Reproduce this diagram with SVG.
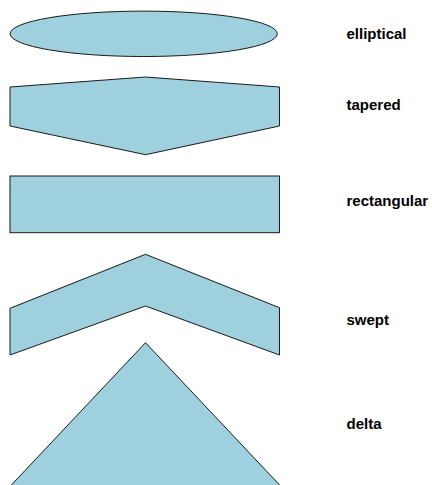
<svg xmlns="http://www.w3.org/2000/svg" width="432" height="485" viewBox="0 0 432 485">
<style>
.shape{fill:#9ed1dd;stroke:#1a1a1a;stroke-width:1;stroke-linejoin:miter}
.lbl{font-family:"Liberation Sans",Arial,sans-serif;font-weight:bold;font-size:15px;fill:#000}
</style>
<rect width="432" height="485" fill="#fff"/>
<g id="elliptical">
<ellipse class="shape" cx="143.7" cy="33.8" rx="133.6" ry="22.7"/>
<text class="lbl" x="346.5" y="39">elliptical</text>
</g>
<g id="tapered">
<polygon class="shape" points="10,87 145.5,77 279.5,87 279.5,126 145.5,154.7 10,126"/>
<text class="lbl" x="346.5" y="110">tapered</text>
</g>
<g id="rectangular">
<rect class="shape" x="10" y="176" width="269.5" height="56.7"/>
<text class="lbl" x="346.5" y="206">rectangular</text>
</g>
<g id="swept">
<polygon class="shape" points="10,308.3 145.5,254.3 279.5,307.7 279.5,355 145.5,306 10,355"/>
<text class="lbl" x="346.5" y="325">swept</text>
</g>
<g id="delta">
<polygon class="shape" points="145.5,342.7 281.5,487 9.5,487"/>
<text class="lbl" x="346.5" y="429">delta</text>
</g>
<g id="connectors"></g>
</svg>
